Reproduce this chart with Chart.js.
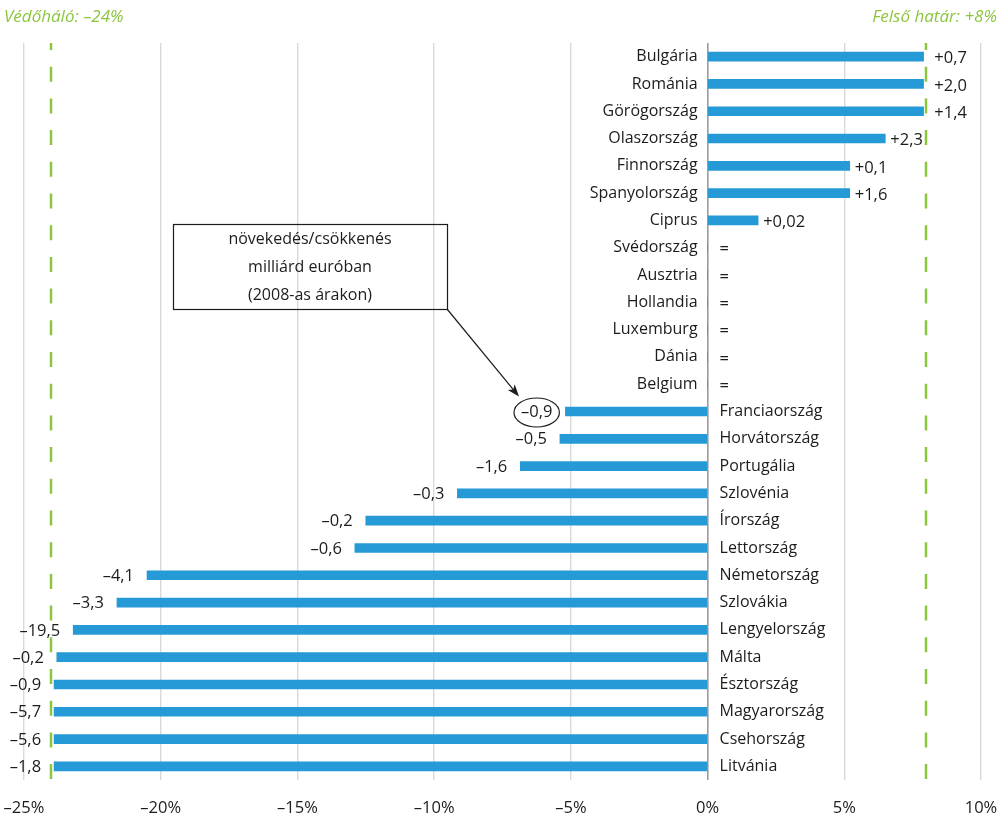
<!DOCTYPE html>
<html lang="hu">
<head>
<meta charset="utf-8">
<title>Védőháló és felső határ</title>
<script src="https://cdn.jsdelivr.net/npm/chart.js@4.4.1/dist/chart.umd.min.js"></script>
<style>
  html, body { margin: 0; padding: 0; background: #fff; }
  #wrap { width: 1006px; height: 817px; }
</style>
</head>
<body>
<div id="wrap"><canvas id="chart" width="1006" height="817"></canvas></div>
<script>
// országok, felülről lefelé
const countries = ['Bulgária', 'Románia', 'Görögország', 'Olaszország', 'Finnország', 'Spanyolország', 'Ciprus',
    'Svédország', 'Ausztria', 'Hollandia', 'Luxemburg', 'Dánia', 'Belgium',
    'Franciaország', 'Horvátország', 'Portugália', 'Szlovénia', 'Írország', 'Lettország',
    'Németország', 'Szlovákia', 'Lengyelország', 'Málta', 'Észtország', 'Magyarország', 'Csehország', 'Litvánia'];

// változás százalékban (a kép alapján becsülve)
const changes = [7.9, 7.9, 7.9, 6.5, 5.2, 5.2, 1.85,
    0, 0, 0, 0, 0, 0,
    -5.2, -5.4, -6.85, -9.15, -12.5, -12.9,
    -20.5, -21.6, -23.2, -23.8, -23.9, -23.9, -23.9, -23.9];

// változás milliárd euróban (2008-as árakon)
const amounts = ['+0,7', '+2,0', '+1,4', '+2,3', '+0,1', '+1,6', '+0,02',
    '=', '=', '=', '=', '=', '=',
    '–0,9', '–0,5', '–1,6', '–0,3', '–0,2', '–0,6',
    '–4,1', '–3,3', '–19,5', '–0,2', '–0,9', '–5,7', '–5,6', '–1,8'];

const xTicks = [-25, -20, -15, -10, -5, 0, 5, 10];
const safetyNet = -24;   // Védőháló
const upperLimit = 8;    // Felső határ
const circledIndex = 13; // Franciaország

const FONT = '"Open Sans", "Noto Sans", sans-serif';
const GREEN = '#8cc63f';
const BLUE = '#259ad6';
const TEXT = '#1d1b1c';

const fmtTick = v => (v < 0 ? '–' : '') + Math.abs(v) + '%';

const limitLines = {
    id: 'limitLines',
    afterDatasetsDraw(chart) {
        const { ctx, chartArea, scales } = chart;
        ctx.save();
        ctx.strokeStyle = GREEN;
        ctx.lineWidth = 2.5;
        ctx.setLineDash([15, 16.7]);
        ctx.lineDashOffset = 8;
        [safetyNet, upperLimit].forEach(v => {
            const x = Math.round(scales.x.getPixelForValue(v));
            ctx.beginPath();
            ctx.moveTo(x, chartArea.top);
            ctx.lineTo(x, chartArea.bottom);
            ctx.stroke();
        });
        ctx.restore();

        // feliratok fent
        ctx.save();
        ctx.font = 'italic 17px ' + FONT;
        ctx.fillStyle = GREEN;
        ctx.textBaseline = 'middle';
        ctx.textAlign = 'left';
        ctx.fillText('Védőháló: ' + fmtTick(safetyNet), 4, 17);
        ctx.textAlign = 'right';
        ctx.fillText('Felső határ: +' + upperLimit + '%', 997, 17);
        ctx.restore();
    }
};

const barLabels = {
    id: 'barLabels',
    afterDatasetsDraw(chart) {
        const { ctx, scales } = chart;
        const meta = chart.getDatasetMeta(0);
        const x0 = scales.x.getPixelForValue(0);
        const xLim = scales.x.getPixelForValue(upperLimit);
        ctx.save();
        ctx.fillStyle = TEXT;
        ctx.textBaseline = 'middle';
        meta.data.forEach((bar, i) => {
            const v = changes[i];
            const y = bar.y;
            if (v >= 0) {
                ctx.font = '16px ' + FONT;
                ctx.textAlign = 'right';
                ctx.fillText(countries[i], x0 - 10, y);
                ctx.font = '16.5px ' + FONT;
                ctx.textAlign = 'left';
                let lx = v > 0 ? bar.x + 5 : x0 + 12;
                if (v > 0 && xLim - bar.x < 8) lx = xLim + 8; // a határvonal mögé
                ctx.fillText(amounts[i], lx, y + 2);
            } else {
                ctx.font = '16px ' + FONT;
                ctx.textAlign = 'left';
                ctx.fillText(countries[i], x0 + 12, y);
                ctx.font = '16.5px ' + FONT;
                ctx.textAlign = 'right';
                ctx.fillText(amounts[i], bar.x - 13, y + 1);
            }
        });

        // bekarikázott érték + magyarázó doboz
        ctx.font = '16.5px ' + FONT;
        const b = meta.data[circledIndex];
        const w = ctx.measureText(amounts[circledIndex]).width;
        const cx = b.x - 13 - w / 2;
        const cy = b.y + 1;
        const rx = w / 2 + 7, ry = 14.5;
        ctx.strokeStyle = TEXT;
        ctx.lineWidth = 1.2;
        ctx.beginPath();
        ctx.ellipse(cx, cy, rx, ry, 0, 0, Math.PI * 2);
        ctx.stroke();

        const box = { l: 173, t: 224, r: 447, b: 309 };
        ctx.lineWidth = 1.2;
        ctx.strokeRect(box.l + 0.5, box.t + 0.5, box.r - box.l, box.b - box.t);
        ctx.font = '16px ' + FONT;
        ctx.textAlign = 'center';
        const mid = (box.l + box.r) / 2;
        ctx.fillText('növekedés/csökkenés', mid, 239);
        ctx.fillText('milliárd euróban', mid, 267);
        ctx.fillText('(2008-as árakon)', mid, 295);

        // nyíl
        const tx = cx - rx * 0.78, ty = cy - ry * 1.1;
        const sx = box.r, sy = box.b;
        const ang = Math.atan2(ty - sy, tx - sx);
        ctx.beginPath();
        ctx.moveTo(sx, sy);
        ctx.lineTo(tx - Math.cos(ang) * 6, ty - Math.sin(ang) * 6);
        ctx.stroke();
        ctx.beginPath();
        ctx.moveTo(tx, ty);
        ctx.lineTo(tx - 13 * Math.cos(ang - 0.35), ty - 13 * Math.sin(ang - 0.35));
        ctx.lineTo(tx - 9 * Math.cos(ang), ty - 9 * Math.sin(ang));
        ctx.lineTo(tx - 13 * Math.cos(ang + 0.35), ty - 13 * Math.sin(ang + 0.35));
        ctx.closePath();
        ctx.fillStyle = TEXT;
        ctx.fill();
        ctx.restore();
    }
};

new Chart(document.getElementById('chart'), {
    type: 'bar',
    data: {
        labels: countries,
        datasets: [{
            data: changes,
            backgroundColor: BLUE,
            borderWidth: 0,
            barThickness: 9
        }]
    },
    options: {
        indexAxis: 'y',
        responsive: false,
        animation: false,
        layout: { padding: { left: 24, right: 25, top: 43, bottom: 0 } },
        plugins: { legend: { display: false }, tooltip: { enabled: false } },
        scales: {
            x: {
                min: -25,
                max: 10,
                afterBuildTicks: s => { s.ticks = xTicks.map(v => ({ value: v })); },
                afterFit: s => {
                    s.height = 37;
                    s.paddingLeft = 0;
                    s.paddingRight = 0;
                },
                border: { display: false },
                grid: {
                    drawTicks: false,
                    color: c => c.tick && c.tick.value === 0 ? '#9b9b9b' : '#d9d9d9',
                    lineWidth: c => c.tick && c.tick.value === 0 ? 1.6 : 1.4
                },
                ticks: {
                    padding: 18,
                    color: TEXT,
                    font: { family: FONT, size: 16.5 },
                    maxRotation: 0,
                    callback: v => fmtTick(v)
                }
            },
            y: { display: false }
        }
    },
    plugins: [limitLines, barLabels]
});
</script>
</body>
</html>
